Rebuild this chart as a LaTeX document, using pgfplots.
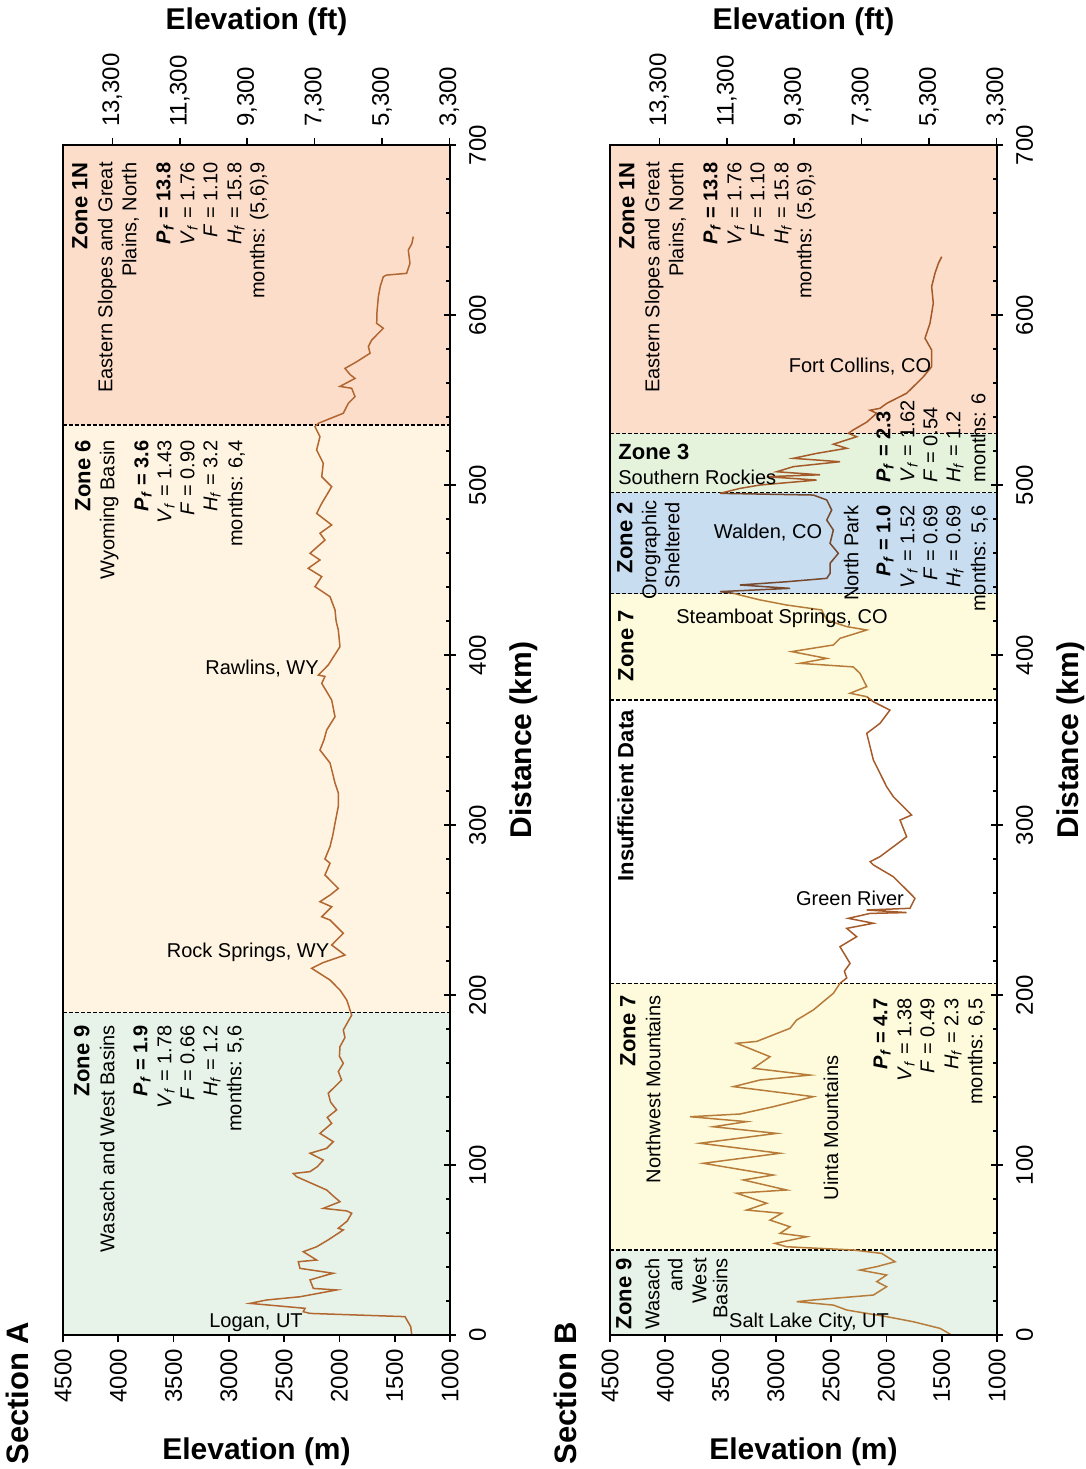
\documentclass[border=0pt]{standalone}
\usepackage{fontspec}
\setmainfont{Liberation Sans}
\usepackage{pgfplots}
\pgfplotsset{compat=1.18}

\definecolor{zOne}{RGB}{252,221,202}
\definecolor{zSix}{RGB}{254,244,225}
\definecolor{zNine}{RGB}{231,243,232}
\definecolor{zSeven}{RGB}{253,251,220}
\definecolor{zTwo}{RGB}{200,221,240}
\definecolor{zThree}{RGB}{229,242,220}
\definecolor{lineA}{RGB}{178,102,48}
\definecolor{lineG}{RGB}{184,124,58}
\definecolor{lineR}{RGB}{165,90,42}
\definecolor{lineD}{RGB}{118,72,45}

\newcommand{\Pf}[1]{\textbf{\textit{P}\textsubscript{\textit{f}} = #1}}
\newcommand{\Vf}[1]{\textit{V}\textsubscript{\textit{f}} = #1}
\newcommand{\Ff}[1]{\textit{F} = #1}
\newcommand{\Hf}[1]{\textit{H}\textsubscript{\textit{f}} = #1}

\pgfplotsset{
  secbox/.style={scale only axis, width=193.5pt, height=595pt, x dir=reverse,
    xmin=1000, xmax=4500, ymin=0, ymax=700,
    axis line style={line width=1pt, black},
    tick style={black, line width=0.8pt},
    /pgf/number format/assume math mode=true,
    tick label style={font=\fontsize{12}{14}\selectfont},
    label style={font=\fontsize{15}{18}\selectfont\bfseries}},
  mainax/.style={secbox, xtick={1000,1500,...,4500}, xtick pos=left, xticklabel pos=left,
    tick align=outside, major tick length=3.5pt, ytick=\empty,
    xticklabel style={rotate=90, anchor=east},
    /pgf/number format/1000 sep={}, xlabel={Elevation (m)}, xlabel shift=11pt},
  topax/.style={secbox, xmin=3280.84, xmax=14763.78, scaled x ticks=false,
    xtick={3300,5300,7300,9300,11300,13300},
    xticklabels={{3,300},{5,300},{7,300},{9,300},{11,300},{13,300}},
    xtick pos=right, xticklabel pos=right, tick align=outside, major tick length=3.5pt,
    ytick=\empty, xticklabel style={rotate=90, anchor=west}, xticklabel shift=2pt,
    xlabel={Elevation (ft)}, xlabel shift=2pt},
  rightax/.style={secbox, xtick=\empty, ytick={0,100,...,700}, ytick pos=right, yticklabel pos=right,
    tick align=center, major tick length=6pt, yticklabel shift=3pt,
    yticklabel style={rotate=90, anchor=north}, ylabel={Distance (km)}, ylabel shift=5pt},
  minorax/.style={secbox, xtick=\empty,
    ytick={20,40,60,80,120,140,160,180,220,240,260,280,320,340,360,380,420,440,460,480,520,540,560,580,620,640,660,680},
    yticklabels={}, ytick pos=right, tick align=inside, major tick length=2pt},
  zb/.style={black, line width=0.6pt, dash pattern=on 2pt off 1pt}
}

\begin{document}
\begin{tikzpicture}
% ================= SECTION A =================
\begin{axis}[mainax, name=A, at={(0,0)}]
\addplot[draw=none, fill=zNine] coordinates {(4500,0) (1000,0) (1000,189.8) (4500,189.8) (4500,0)};
\addplot[draw=none, fill=zSix] coordinates {(4500,189.8) (1000,189.8) (1000,535.3) (4500,535.3) (4500,189.8)};
\addplot[draw=none, fill=zOne] coordinates {(4500,535.3) (1000,535.3) (1000,700) (4500,700) (4500,535.3)};
\addplot[zb] coordinates {(4500,189.8) (1000,189.8)};
\addplot[zb] coordinates {(4500,535.3) (1000,535.3)};
\addplot[lineA, line width=0.75pt] coordinates {
(1346,0) (1355,4.9) (1407,10.8) (2266,12.7) (2327,13.7) (2311,15.7) (2809,18.6) (2658,20.6)
(2357,22.5) (2025,26.5) (2236,27.4) (2266,32.4) (2115,35.3) (2055,36.3) (2357,39.2) (2372,43.1)
(2206,44.1) (2327,49) (2206,51.9) (2100,56) (1965,61.8) (2010,62.8) (1930,67) (1889,71.6) (1934,73)
(2146,74.5) (1995,78.4) (2060,82) (2115,85.3) (2387,93.1) (2417,95) (2266,96.1) (2200,99)
(2146,102.9) (2266,106.9) (2115,109.8) (2055,113.7) (2176,118.6) (2070,124.5) (2110,128)
(2025,132.4) (2080,137) (2101,142.2) (1980,150) (2010,155) (1965,159.8) (2000,164) (1995,169.6)
(1950,175) (1965,179.4) (1889,188.2) (1934,197.1) (1995,202.9) (2085,208.8) (2251,215.7)
(2150,219) (1950,223.5) (2070,229.4) (1965,236.3) (2085,244.1) (2160,246) (2070,251.9)
(2176,254.9) (2080,259) (2010,262.7) (2131,270.6) (2085,277.5) (2131,280) (2085,287.3)
(2060,294) (2040,301) (2010,311) (2010,318.8) (2040,324.7) (2060,330) (2085,336.5) (2176,344.1)
(2140,350) (2115,355.9) (2040,363.7) (2070,373.5) (2120,379) (2160,383.3) (2131,387.4)
(2191,388.2) (2101,394.1) (1995,404.9) (2010,414.7) (2030,420) (2040,426.5) (2085,434.3)
(2221,440.2) (2160,446.1) (2282,451) (2176,455.9) (2266,459.8) (2131,467.6) (2176,471.6)
(2070,476.5) (2206,483.3) (2160,489.2) (2070,499) (2160,504.9) (2146,512.8) (2206,520.6)
(2176,528.4) (2221,534.3) (2191,536.3) (1965,542.2) (1920,548) (1859,552) (1889,556.9)
(1995,558) (1859,562.7) (1904,565) (1950,568.6) (1844,572.5) (1723,577.5) (1738,581.4)
(1708,585.3) (1633,590.2) (1603,592.2) (1663,595.1) (1660,602) (1648,610.8) (1630,617)
(1603,622.5) (1573,623.5) (1392,624.5) (1362,630.4) (1377,638.2) (1345,642) (1332,646.1)
};
\end{axis}
\begin{axis}[topax, at={(0,0)}]\end{axis}
\begin{axis}[rightax, at={(0,0)}]\end{axis}
\begin{axis}[minorax, at={(0,0)}]\end{axis}

% ================= SECTION B =================
\begin{axis}[mainax, name=B, at={(273.5pt,0)}]
\addplot[draw=none, fill=zNine] coordinates {(4500,0) (1000,0) (1000,50) (4500,50) (4500,0)};
\addplot[draw=none, fill=zSeven] coordinates {(4500,50) (1000,50) (1000,207) (4500,207) (4500,50)};
\addplot[draw=none, fill=zSeven] coordinates {(4500,373.5) (1000,373.5) (1000,436) (4500,436) (4500,373.5)};
\addplot[draw=none, fill=zTwo] coordinates {(4500,436) (1000,436) (1000,495.5) (4500,495.5) (4500,436)};
\addplot[draw=none, fill=zThree] coordinates {(4500,495.5) (1000,495.5) (1000,530.4) (4500,530.4) (4500,495.5)};
\addplot[draw=none, fill=zOne] coordinates {(4500,530.4) (1000,530.4) (1000,700) (4500,700) (4500,530.4)};
\addplot[zb] coordinates {(4500,50) (1000,50)};
\addplot[zb] coordinates {(4500,207) (1000,207)};
\addplot[zb] coordinates {(4500,373.5) (1000,373.5)};
\addplot[zb] coordinates {(4500,436) (1000,436)};
\addplot[zb] coordinates {(4500,495.5) (1000,495.5)};
\addplot[zb] coordinates {(4500,530.4) (1000,530.4)};
\addplot[lineG, line width=0.75pt] coordinates {
(1410,0) (1515,3.9) (1757,7.8) (1998,10.8) (2269,13.7) (2359,14.7) (2480,17.6) (2812,19.6)
(2661,20.6) (2118,23.5) (1998,28.4) (2088,31.4) (1998,35.3) (2239,38.2) (2088,40.2) (1922,43.1)
(2043,48) (2300,50) (2902,51.9) (3008,53.9) (2721,57.8) (2962,59.8) (2872,63.7) (3053,67.6)
(2947,71.6) (3264,73.5) (3083,77.5) (3354,83.4) (2902,85.3) (3294,91.2) (3023,94.1) (3656,101)
(2962,106.9) (3686,112.8) (2992,118.6) (3566,122.5) (3264,125.5) (3776,128.4) (3324,130)
(3023,134.3) (2661,140.2) (3384,146.1) (3143,150) (2691,152.9) (3204,156.9) (3053,163.7)
(3354,171.6) (3173,172.7) (2872,180.4) (2812,185.3) (2661,191.2) (2480,201) (2420,206.9)
};
\addplot[lineR, line width=0.75pt] coordinates {
(2420,206.9) (2359,210) (2380,214) (2329,218.6) (2420,228.4) (2269,234.3) (2359,239.2) (2118,242.2)
(2344,245.1) (2148,248) (1817,248.5) (2178,250) (1787,251) (1742,256.9) (1817,261.8) (1938,269.6)
(2118,276.5) (2148,278.4) (2058,281.4) (1817,293.1) (1877,302.9) (1772,305.9) (1938,316.7)
(1998,322.5) (2058,330.4) (2118,338.2) (2148,346.1) (2178,353.9) (2058,359.8) (1968,367.6)
(2118,372.5) (2178,375.5)
};
\addplot[lineG, line width=0.75pt] coordinates {
(2178,375.5) (2329,377.5) (2178,381.4) (2239,389.2) (2300,393) (2782,395.1) (2540,398) (2857,402)
(2480,405.9) (2420,409.8) (2178,414.7) (2359,416.7) (2540,420.6) (2585,426.5) (2902,429.4)
(3143,432.4) (3264,434.3) (3384,436.3)
};
\addplot[lineD, line width=0.75pt] coordinates {
(3384,436.3) (3505,437.3) (2872,439.2) (3324,441.2) (2902,443.1) (2540,445.1) (2510,448)
(2510,453.9) (2435,459.8) (2510,465.7) (2480,473.5) (2540,479.4) (2495,485.3) (2540,491.2)
(2661,494.1) (3505,495.1)
};
\addplot[lineR, line width=0.75pt] coordinates {
(3505,495.1) (3324,498) (3143,500) (2631,502.9) (3083,504.9) (2601,506) (2992,507.8) (2842,510.8)
(2420,513.7) (2842,515.7) (2631,518.6) (2359,521.6) (2480,524) (2269,528.4) (2344,530.4)
(2300,532.4) (2178,537) (2088,542.2) (2148,544) (2058,545.1) (1998,548) (1877,552) (1817,554)
(1757,557.8) (1726,559.8) (1666,563.7) (1591,569.6) (1591,579.4) (1651,586.3) (1606,595.1)
(1576,606.9) (1591,616.7) (1561,624.5) (1530,630.4) (1500,634.3)
};
\end{axis}
\begin{axis}[topax, at={(273.5pt,0)}]\end{axis}
\begin{axis}[rightax, at={(273.5pt,0)}]\end{axis}
\begin{axis}[minorax, at={(273.5pt,0)}]\end{axis}

% ================= TEXT (pixel coordinates) =================
\begin{scope}[shift={(-31.5pt,667.5pt)}, x=0.5pt, y=-0.5pt,
  rt/.style={rotate=90, anchor=mid east, inner sep=0pt, font=\fontsize{10}{12}\selectfont},
  rtb/.style={rotate=90, anchor=mid east, inner sep=0pt, font=\fontsize{11}{13}\selectfont\bfseries},
  rtw/.style={rotate=90, anchor=mid west, inner sep=0pt, font=\fontsize{10}{12}\selectfont},
  hz/.style={inner sep=0pt, font=\fontsize{10}{12}\selectfont}]
% Section A
\node[rtb] at (84,1025) {Zone 9};
\node[rt] at (109,1025) {Wasach and West Basins};
\node[rt] at (142,1025) {\Pf{1.9}};
\node[rt] at (166,1025) {\Vf{1.78}};
\node[rt] at (189,1025) {\Ff{0.66}};
\node[rt] at (212,1025) {\Hf{1.2}};
\node[rt] at (236,1025) {months:  5,6};
\node[rtb] at (85,440) {Zone 6};
\node[rt] at (109,440) {Wyoming Basin};
\node[rt] at (143,440) {\Pf{3.6}};
\node[rt] at (166,440) {\Vf{1.43}};
\node[rt] at (189,440) {\Ff{0.90}};
\node[rt] at (212,440) {\Hf{3.2}};
\node[rt] at (237,440) {months: 6,4};
\node[rtb] at (82,162) {Zone 1N};
\node[rt] at (107,162) {Eastern Slopes and Great};
\node[rt] at (131,162) {Plains, North};
\node[rt] at (165,162) {\Pf{13.8}};
\node[rt] at (189,162) {\Vf{1.76}};
\node[rt] at (212,162) {\Ff{1.10}};
\node[rt] at (236,162) {\Hf{15.8}};
\node[rt] at (259,162) {months: (5,6),9};
\node[hz] at (256,1323) {Logan, UT};
\node[hz] at (248,952) {Rock Springs, WY};
\node[hz] at (262,669) {Rawlins, WY};
\node[rotate=90, anchor=mid west, inner sep=0pt, font=\fontsize{15.5}{18}\selectfont\bfseries] at (23,1465) {Section A};
% Section B
\node[rtb] at (629,162) {Zone 1N};
\node[rt] at (654,162) {Eastern Slopes and Great};
\node[rt] at (678,162) {Plains, North};
\node[rt] at (712,162) {\Pf{13.8}};
\node[rt] at (736,162) {\Vf{1.76}};
\node[rt] at (759,162) {\Ff{1.10}};
\node[rt] at (783,162) {\Hf{15.8}};
\node[rt] at (806,162) {months: (5,6),9};
\node[hz] at (860,367) {Fort Collins, CO};
\node[hz, anchor=west, font=\fontsize{11}{13}\selectfont\bfseries] at (618,452) {Zone 3};
\node[hz, anchor=west] at (618,477) {Southern Rockies};
\node[rtw] at (885,483) {\Pf{2.3}};
\node[rtw] at (909,483) {\Vf{1.62}};
\node[rtw] at (932,483) {\Ff{0.54}};
\node[rtw] at (955,483) {\Hf{1.2}};
\node[rtw] at (980,483) {months: 6};
\node[rtb] at (627,502) {Zone 2};
\node[rt] at (651,500) {Orographic};
\node[rt] at (674,502) {Sheltered};
\node[hz] at (768,533) {Walden, CO};
\node[rt] at (853,505) {North Park};
\node[rt] at (885,505) {\Pf{1.0}};
\node[rt] at (909,505) {\Vf{1.52}};
\node[rt] at (932,505) {\Ff{0.69}};
\node[rt] at (955,505) {\Hf{0.69}};
\node[rt] at (980,505) {months: 5,6};
\node[rtb] at (628,610) {Zone 7};
\node[hz] at (782,618) {Steamboat Springs, CO};
\node[rtb] at (628,710) {Insufficient Data};
\node[hz] at (850,898) {Green River};
\node[rtb] at (630,995) {Zone 7};
\node[rt] at (655,995) {Northwest Mountains};
\node[rt] at (882,998) {\Pf{4.7}};
\node[rt] at (906,998) {\Vf{1.38}};
\node[rt] at (929,998) {\Ff{0.49}};
\node[rt] at (953,998) {\Hf{2.3}};
\node[rt] at (977,998) {months: 6,5};
\node[rotate=90, inner sep=0pt, font=\fontsize{10}{12}\selectfont] at (831,1128) {Uinta Mountains};
\node[rtb] at (626,1258) {Zone 9};
\node[rt] at (654,1258) {Wasach};
\node[rt] at (677,1258) {and};
\node[rt] at (701,1258) {West};
\node[rt] at (722,1258) {Basins};
\node[hz] at (809,1322) {Salt Lake City, UT};
\node[rotate=90, anchor=mid west, inner sep=0pt, font=\fontsize{15.5}{18}\selectfont\bfseries] at (571,1465) {Section B};
\end{scope}

\pgfresetboundingbox
\path[use as bounding box] (-31.5pt,-67pt) rectangle (511.5pt,667.5pt);
\end{tikzpicture}
\end{document}
